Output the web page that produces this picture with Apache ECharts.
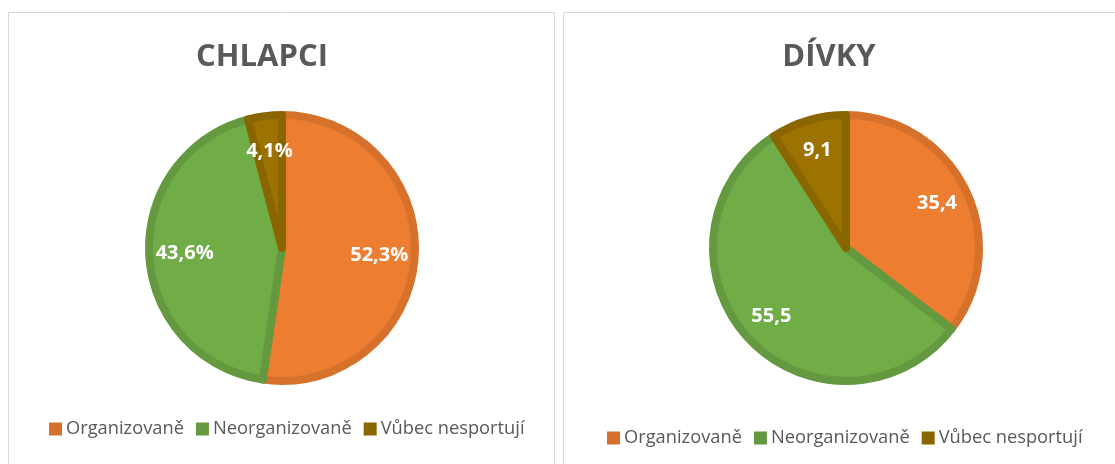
<!DOCTYPE html>
<html>
<head>
<meta charset="utf-8">
<script src="https://cdn.jsdelivr.net/npm/echarts@6/dist/echarts.min.js"></script>
<style>
html,body{margin:0;padding:0;background:#fff;}
#chart{width:1115px;height:464px;}
</style>
</head>
<body>
<div id="chart"></div>
<script>
const categories = ['Organizovaně', 'Neorganizovaně', 'Vůbec nesportují'];
const boysValues = [52.3, 43.6, 4.1];
const girlsValues = [35.4, 55.5, 9.1];
const chartTitles = ['CHLAPCI', 'DÍVKY'];

const fillColors = ['#ED7D31', '#70AD47', '#9C7300'];
const edgeColors = ['#D6712C', '#64993F', '#8A6600'];
const FONT = '"Open Sans", "DejaVu Sans", sans-serif';

const fmt = (v, pct) => v.toFixed(1).replace('.', ',') + (pct ? '%' : '');

function mainPie(values, cx) {
  return {
    type: 'pie',
    center: [cx, 248],
    radius: [0, 133],
    startAngle: 90,
    clockwise: true,
    silent: true,
    label: { show: false },
    labelLine: { show: false },
    data: values.map((v, i) => ({
      name: categories[i],
      value: v,
      itemStyle: { color: fillColors[i], borderColor: edgeColors[i], borderWidth: 8, borderJoin: 'round' }
    }))
  };
}

function labelPie(values, cx, r0, pct) {
  return {
    type: 'pie',
    center: [cx, 248],
    radius: [r0, 137],
    startAngle: 90,
    clockwise: true,
    silent: true,
    itemStyle: { color: 'rgba(0,0,0,0)', borderWidth: 0 },
    label: {
      show: true,
      position: 'inside',
      color: '#ffffff',
      fontFamily: FONT,
      fontWeight: 'bold',
      fontSize: 20,
      formatter: p => fmt(p.value, pct)
    },
    labelLine: { show: false },
    data: values.map((v, i) => ({ name: categories[i], value: v }))
  };
}

const legendData = categories.map((c, i) => ({ name: c, itemStyle: { color: edgeColors[i], borderWidth: 0 } }));
const legendBase = {
  data: legendData,
  orient: 'horizontal',
  itemWidth: 13,
  itemHeight: 13,
  itemGap: 12,
  selectedMode: false,
  icon: 'rect',
  textStyle: { color: '#595959', fontFamily: FONT, fontSize: 18.3, padding: [0, 0, 0, -1] }
};

const option = {
  animation: false,
  backgroundColor: '#ffffff',
  graphic: [
    { type: 'rect', shape: { x: 8.5, y: 12.5, width: 546, height: 480 }, style: { fill: '#fff', stroke: '#D9D9D9', lineWidth: 1 }, z: -10 },
    { type: 'rect', shape: { x: 563.5, y: 12.5, width: 600, height: 480 }, style: { fill: '#fff', stroke: '#D9D9D9', lineWidth: 1 }, z: -10 },
    { type: 'text', x: 262, y: 57, style: { text: chartTitles[0], fill: '#595959', font: 'bold 31px ' + FONT, textAlign: 'center', textVerticalAlign: 'middle' } },
    { type: 'text', x: 829, y: 57, style: { text: chartTitles[1], fill: '#595959', font: 'bold 31px ' + FONT, textAlign: 'center', textVerticalAlign: 'middle' } }
  ],
  legend: [
    Object.assign({}, legendBase, { left: 44, top: 415 }),
    Object.assign({}, legendBase, { left: 602, top: 424 })
  ],
  series: [
    mainPie(boysValues, 282),
    labelPie(boysValues, 282, 52, true),
    mainPie(girlsValues, 846),
    labelPie(girlsValues, 846, 60, false)
  ]
};

const chart = echarts.init(document.getElementById('chart'), null, { renderer: 'canvas' });
chart.setOption(option);
</script>
</body>
</html>
